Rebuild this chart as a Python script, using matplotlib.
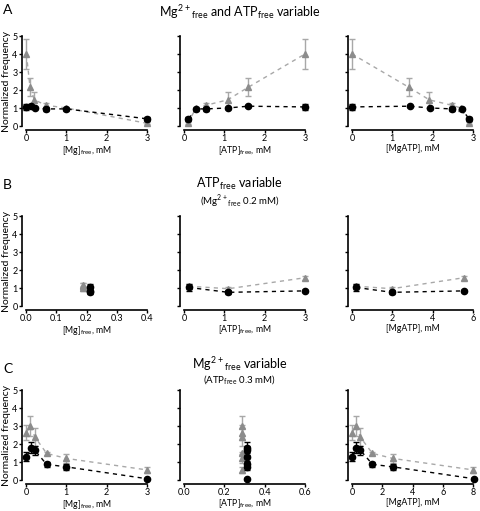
import matplotlib
matplotlib.use("Agg")
import matplotlib.pyplot as plt

plt.rcParams['font.family'] = ['Lato', 'DejaVu Sans']
plt.rcParams['font.size'] = 6.5

# ---- data ----
# row A: Mg2+free and ATPfree variable
a_mg_blk = [0.01, 0.12, 0.22, 0.5, 1.0, 3.0]
a_atp_blk = [3.0, 1.59, 1.08, 0.54, 0.3, 0.11]
a_mgatp_blk = [0.0, 1.43, 1.94, 2.48, 2.72, 2.9]
a_y_blk = [1.06, 1.1, 1.0, 0.95, 0.95, 0.4]
a_err_blk = [0.15, 0.05, 0.05, 0.1, 0.05, 0.1]

a_mg_gry = [0.01, 0.1, 0.21, 0.5, 1.0, 3.0]
a_atp_gry = [3.0, 1.59, 1.08, 0.54, 0.3, 0.09]
a_mgatp_gry = [0.0, 1.41, 1.92, 2.48, 2.7, 2.9]
a_y_gry = [4.0, 2.15, 1.45, 1.15, 1.0, 0.15]
a_err_gry = [0.85, 0.5, 0.45, 0.15, 0.05, 0.05]

# row B: ATPfree variable (Mg2+free 0.2 mM)
b_mg_blk = [0.213, 0.213, 0.213]
b_mg_gry = [0.19, 0.19, 0.19]
b1_y_gry = [1.1, 0.98, 1.15]
b1_err_gry = [0.2, 0.15, 0.15]
b_atp_blk = [0.12, 1.1, 3.0]
b_atp_gry = [0.12, 1.1, 3.0]
b_mgatp_blk = [0.21, 1.98, 5.57]
b_mgatp_gry = [0.21, 1.98, 5.54]
b_y_blk = [1.03, 0.76, 0.84]
b_err_blk = [0.18, 0.12, 0.06]
b_y_gry = [1.1, 0.96, 1.57]
b_err_gry = [0.15, 0.12, 0.12]

# row C: Mg2+free variable (ATPfree 0.3 mM)
c_mg_blk = [0.01, 0.13, 0.22, 0.51, 1.0, 3.0]
c_mg_gry = [0.01, 0.11, 0.22, 0.51, 1.0, 3.0]
c_atp_blk = [0.31] * 6
c_atp_gry = [0.29] * 6
c_mgatp_blk = [0.0, 0.28, 0.56, 1.35, 2.71, 8.06]
c_mgatp_gry = [0.0, 0.28, 0.54, 1.35, 2.69, 8.0]
c_y_blk = [1.3, 1.8, 1.65, 0.87, 0.73, 0.07]
c_err_blk = [0.25, 0.3, 0.25, 0.12, 0.15, 0.03]
c_y_gry = [2.63, 3.0, 2.39, 1.48, 1.2, 0.56]
c_err_gry = [0.4, 0.55, 0.5, 0.1, 0.25, 0.15]

GRAY_M = '#8c8c8c'
GRAY_L = '#a8a8a8'

W, H = 480, 511
fig = plt.figure(figsize=(W / 100, H / 100), dpi=100)

col_left = [26, 184, 352]
col_w = 121
row_y0 = [126, 306, 480]
row_h = 90


def make_ax(r, c):
    l = col_left[c] / W
    b = 1 - row_y0[r] / H
    ax = fig.add_axes([l, b, col_w / W, row_h / H])
    for s in ['top', 'right']:
        ax.spines[s].set_visible(False)
    ax.spines['left'].set_position(('outward', 3))
    ax.spines['bottom'].set_position(('outward', 3))
    ax.spines['left'].set_linewidth(1.2)
    ax.spines['bottom'].set_linewidth(1.2)
    ax.tick_params(direction='out', length=2.2, width=1, pad=0.8, labelsize=6.5)
    ax.set_ylim(0, 5)
    ax.set_yticks([0, 1, 2, 3, 4, 5])
    if c == 0:
        ax.set_ylabel('Normalized frequency', labelpad=1, fontsize=7.5)
    else:
        ax.set_yticklabels([])
    return ax


def draw(ax, xb, yb, eb, xg, yg, eg, lines=True):
    if lines:
        pg = sorted(zip(xg, yg))
        ax.plot([p[0] for p in pg], [p[1] for p in pg], ls=(0, (3, 3)),
                color=GRAY_L, lw=1, zorder=1)
        pb = sorted(zip(xb, yb))
        ax.plot([p[0] for p in pb], [p[1] for p in pb], ls=(0, (3, 3)),
                color='black', lw=1, zorder=1)
    ax.errorbar(xg, yg, yerr=eg, fmt='^', color=GRAY_M, ecolor=GRAY_L,
                ms=4.5, capsize=2, elinewidth=1, capthick=1, zorder=2,
                clip_on=False)
    ax.errorbar(xb, yb, yerr=eb, fmt='o', color='black', ecolor='black',
                ms=4.5, capsize=2, elinewidth=1, capthick=1, zorder=3,
                clip_on=False)


mg_lab = '[Mg]$_{\\mathregular{free}}$, mM'
atp_lab = '[ATP]$_{\\mathregular{free}}$, mM'
mgatp_lab = '[MgATP], mM'


def xlab(ax, s):
    ax.set_xlabel(s, labelpad=0.3, fontsize=6.3)


# Row A
ax = make_ax(0, 0)
draw(ax, a_mg_blk, a_y_blk, a_err_blk, a_mg_gry, a_y_gry, a_err_gry)
ax.set_xlim(0, 3); ax.set_xticks([0, 1, 2, 3]); xlab(ax, mg_lab)

ax = make_ax(0, 1)
draw(ax, a_atp_blk, a_y_blk, a_err_blk, a_atp_gry, a_y_gry, a_err_gry)
ax.set_xlim(0, 3); ax.set_xticks([0, 1, 2, 3]); xlab(ax, atp_lab)

ax = make_ax(0, 2)
draw(ax, a_mgatp_blk, a_y_blk, a_err_blk, a_mgatp_gry, a_y_gry, a_err_gry)
ax.set_xlim(0, 3); ax.set_xticks([0, 1, 2, 3]); xlab(ax, mgatp_lab)

# Row B
ax = make_ax(1, 0)
draw(ax, b_mg_blk, b_y_blk, b_err_blk, b_mg_gry, b1_y_gry, b1_err_gry, lines=False)
ax.set_xlim(0, 0.4); ax.set_xticks([0, 0.1, 0.2, 0.3, 0.4])
ax.set_xticklabels(['0.0', '0.1', '0.2', '0.3', '0.4']); xlab(ax, mg_lab)

ax = make_ax(1, 1)
draw(ax, b_atp_blk, b_y_blk, b_err_blk, b_atp_gry, b_y_gry, b_err_gry)
ax.set_xlim(0, 3); ax.set_xticks([0, 1, 2, 3]); xlab(ax, atp_lab)

ax = make_ax(1, 2)
draw(ax, b_mgatp_blk, b_y_blk, b_err_blk, b_mgatp_gry, b_y_gry, b_err_gry)
ax.set_xlim(0, 6); ax.set_xticks([0, 2, 4, 6]); xlab(ax, mgatp_lab)

# Row C
ax = make_ax(2, 0)
draw(ax, c_mg_blk, c_y_blk, c_err_blk, c_mg_gry, c_y_gry, c_err_gry)
ax.set_xlim(0, 3); ax.set_xticks([0, 1, 2, 3]); xlab(ax, mg_lab)

ax = make_ax(2, 1)
draw(ax, c_atp_blk, c_y_blk, c_err_blk, c_atp_gry, c_y_gry, c_err_gry, lines=False)
ax.set_xlim(0, 0.6); ax.set_xticks([0, 0.2, 0.4, 0.6])
ax.set_xticklabels(['0.0', '0.2', '0.4', '0.6']); xlab(ax, atp_lab)

ax = make_ax(2, 2)
draw(ax, c_mgatp_blk, c_y_blk, c_err_blk, c_mgatp_gry, c_y_gry, c_err_gry)
ax.set_xlim(0, 8); ax.set_xticks([0, 2, 4, 6, 8]); xlab(ax, mgatp_lab)


# panel letters and titles
def fy(px):
    return 1 - px / H


fig.text(3 / W, fy(10), 'A', fontsize=10, va='center', ha='left')
fig.text(3 / W, fy(185), 'B', fontsize=10, va='center', ha='left')
fig.text(3 / W, fy(369), 'C', fontsize=10, va='center', ha='left')

fig.text(0.5, fy(12), 'Mg$^{\\mathregular{2+}}$$_{\\mathregular{free}}$ and ATP$_{\\mathregular{free}}$ variable',
         fontsize=9, ha='center', va='center')
fig.text(0.5, fy(184), 'ATP$_{\\mathregular{free}}$ variable', fontsize=9, ha='center', va='center')
fig.text(0.5, fy(201), '(Mg$^{\\mathregular{2+}}$$_{\\mathregular{free}}$ 0.2 mM)', fontsize=7,
         ha='center', va='center')
fig.text(0.5, fy(364), 'Mg$^{\\mathregular{2+}}$$_{\\mathregular{free}}$ variable', fontsize=9,
         ha='center', va='center')
fig.text(0.5, fy(380), '(ATP$_{\\mathregular{free}}$ 0.3 mM)', fontsize=7, ha='center', va='center')

fig.savefig('out.png', dpi=100)
